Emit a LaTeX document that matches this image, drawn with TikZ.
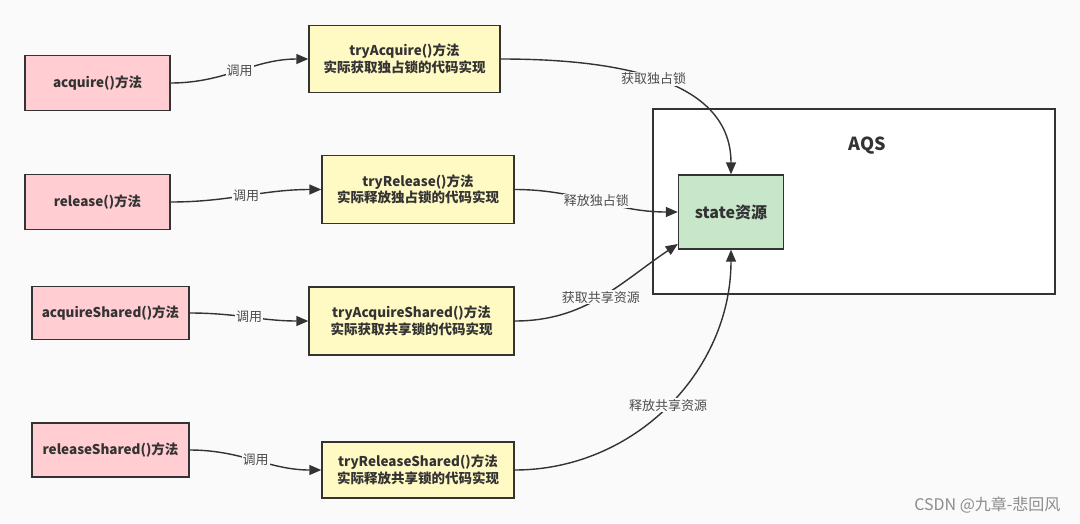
\documentclass[tikz,border=0pt]{standalone}
\usepackage{fontspec}
\setmainfont{Noto Sans CJK SC}
\usetikzlibrary{arrows.meta}
\definecolor{pagebg}{HTML}{FAFAFA}
\definecolor{methodpink}{HTML}{FFCDD2}
\definecolor{tryyellow}{HTML}{FFF9C4}
\definecolor{stategreen}{HTML}{C8E6C9}
\definecolor{inkgray}{HTML}{333333}
\begin{document}
\begin{tikzpicture}[
    x=1pt, y=-1pt,
    box/.style={draw=inkgray, line width=1.4pt, align=center, inner sep=0pt,
        text=inkgray, font=\fontsize{13.5}{16.5}\selectfont\bfseries},
    method/.style={box, fill=methodpink},
    impl/.style={box, fill=tryyellow},
    link/.style={draw=inkgray, line width=1.4pt, -{Triangle[length=12pt,width=10pt]}},
    lbl/.style={fill=pagebg, inner sep=1pt, text=black!70,
        font=\fontsize{13}{15}\selectfont}]
    \fill[pagebg] (0,0) rectangle (1080,523);
    \draw[inkgray, line width=1.6pt, fill=white] (653,109) rectangle (1055,294);
    \node[text=inkgray, font=\fontsize{18}{20}\selectfont\bfseries] (aqs) at (867,146) {AQS};
    \node[box, fill=stategreen, minimum width=105pt, minimum height=74pt,
        font=\fontsize{16}{18}\selectfont\bfseries] (state) at (731,212) {state资源};
    \node[method, minimum width=145pt, minimum height=55pt] (acquire) at (97.5,83) {acquire()方法};
    \node[method, minimum width=145pt, minimum height=55pt] (release) at (97.5,202) {release()方法};
    \node[method, minimum width=157pt, minimum height=53pt] (acqShared) at (110.5,313) {acquireShared()方法};
    \node[method, minimum width=157pt, minimum height=54pt] (relShared) at (110.5,450) {releaseShared()方法};
    \node[impl, minimum width=191pt, minimum height=67pt] (tryAcq) at (404.5,59)
        {tryAcquire()方法\\实际获取独占锁的代码实现};
    \node[impl, minimum width=192pt, minimum height=68pt] (tryRel) at (418,189.5)
        {tryRelease()方法\\实际释放独占锁的代码实现};
    \node[impl, minimum width=205pt, minimum height=68pt] (tryAcqShared) at (411.5,321)
        {tryAcquireShared()方法\\实际获取共享锁的代码实现};
    \node[impl, minimum width=192pt, minimum height=56pt] (tryRelShared) at (418,470)
        {tryReleaseShared()方法\\实际释放共享锁的代码实现};
    \draw[link] (acquire) to[out=0,in=180] node[lbl] {调用} (tryAcq);
    \draw[link] (release) to[out=0,in=180] node[lbl] {调用} (tryRel);
    \draw[link] (acqShared) to[out=0,in=180] node[lbl] {调用} (tryAcqShared);
    \draw[link] (relShared) to[out=0,in=180] node[lbl] {调用} (tryRelShared);
    \draw[link] (tryAcq) to[out=0,in=90] node[lbl, pos=.5] {获取独占锁} (state);
    \draw[link] (tryRel) to[out=0,in=180] node[lbl] {释放独占锁} (state);
    \draw[link] (tryAcqShared) to[out=0,in=214] node[lbl, pos=.5] {获取共享资源} (state.211);
    \draw[link] (tryRelShared) to[out=0,in=-90] node[lbl, pos=.5] {释放共享资源} (state);
    \node[text=black!45, font=\fontsize{16}{18}\selectfont, anchor=east] (mark) at (1064,505)
        {CSDN @九章-悲回风};
\end{tikzpicture}
\end{document}
